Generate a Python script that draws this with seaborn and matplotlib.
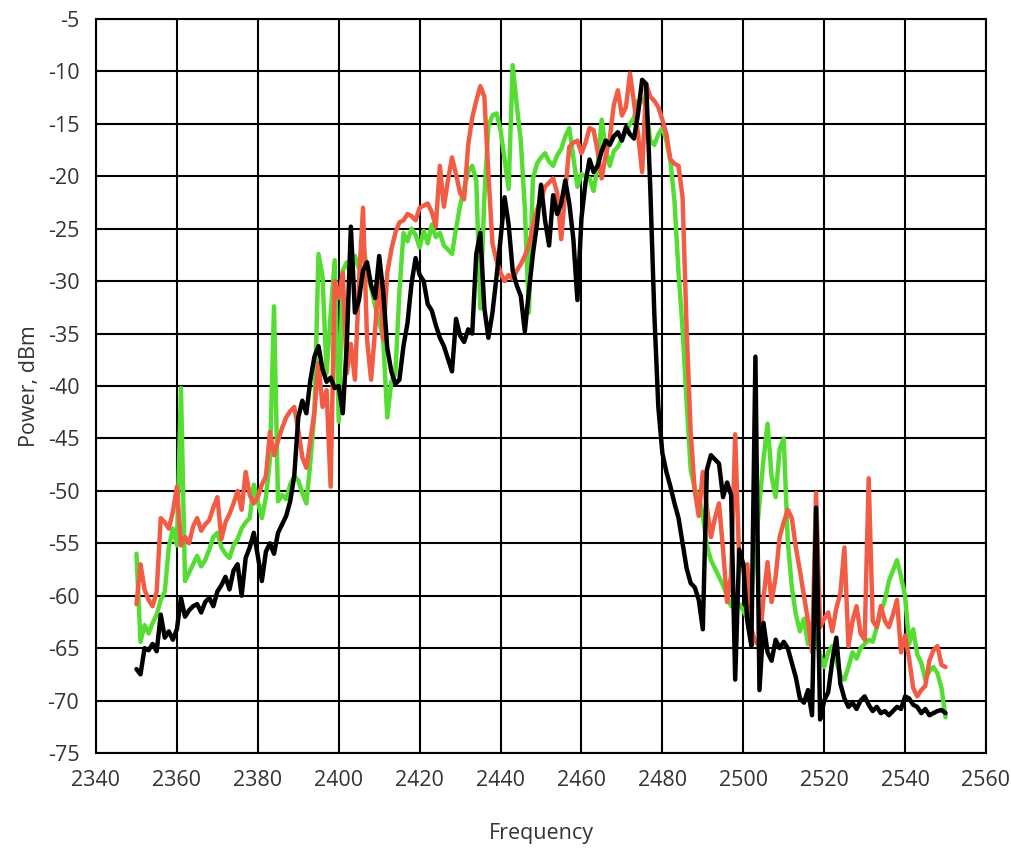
import numpy as np
import pandas as pd
import matplotlib
matplotlib.use("Agg")
import matplotlib.pyplot as plt
import seaborn as sns

# Частоты: шаг 1 МГц, 2350..2550
freq = list(range(2350, 2551))

# Чёрная кривая, dBm
black = [
    -67.0, -67.5, -65.0, -65.2, -64.6, -65.3, -61.8, -64.0, -63.4, -64.2,
    -63.2, -60.2, -62.0, -61.4, -61.0, -60.8, -61.6, -60.6, -60.2, -61.0,
    -59.6, -59.0, -58.2, -59.4, -57.6, -57.0, -60.0, -56.4, -55.4, -54.0,
    -56.2, -58.6, -55.8, -55.0, -56.0, -54.0, -53.2, -52.4, -51.0, -48.6,
    -43.0, -41.4, -42.6, -39.4, -37.2, -36.2, -38.4, -39.6, -39.2, -40.2,
    -40.0, -42.6, -36.0, -24.8, -33.0, -31.8, -29.0, -28.2, -30.4, -31.6,
    -27.6, -31.0, -36.4, -38.6, -39.8, -39.4, -36.2, -34.0, -30.2, -27.8,
    -29.4, -30.0, -32.2, -32.8, -34.2, -35.4, -36.2, -37.4, -38.6, -33.6,
    -35.2, -35.8, -34.6, -35.0, -27.4, -25.4, -32.6, -35.4, -33.0, -29.6,
    -26.0, -22.0, -24.6, -29.0, -30.4, -31.4, -34.8, -31.0, -27.4, -24.6,
    -20.8, -24.2, -26.6, -21.8, -23.6, -22.6, -20.4, -22.6, -26.0, -31.8,
    -24.0, -20.6, -18.4, -19.6, -19.0, -17.6, -16.6, -17.0, -16.2, -15.8,
    -16.6, -15.3, -16.0, -16.4, -14.0, -10.8, -11.2, -21.0, -33.0, -42.0,
    -46.4, -48.2, -49.6, -51.2, -52.6, -55.0, -57.4, -58.8, -59.2, -60.4,
    -63.2, -48.0, -46.6, -47.0, -47.4, -50.6, -49.2, -50.4, -68.0, -55.6,
    -57.0, -62.4, -64.8, -37.2, -69.0, -62.6, -65.4, -66.2, -64.2, -65.0,
    -64.4, -65.0, -66.4, -67.8, -69.8, -70.2, -69.0, -71.4, -51.6, -71.8,
    -70.0, -69.2, -66.2, -64.0, -68.4, -69.8, -70.6, -70.2, -70.8, -70.0,
    -69.6, -70.4, -71.0, -70.6, -71.2, -71.0, -71.4, -71.0, -70.6, -70.8,
    -69.6, -69.8, -70.4, -70.6, -71.2, -70.8, -71.4, -71.2, -71.0, -70.9,
    -71.2,
]

# Зелёная кривая
green = [
    -56.0, -64.4, -62.8, -63.6, -62.6, -61.8, -60.4, -59.6, -55.4, -53.6,
    -55.2, -40.2, -58.6, -57.8, -57.0, -56.2, -57.2, -56.6, -55.6, -54.4,
    -54.0, -55.4, -56.0, -56.4, -55.2, -54.6, -53.6, -53.0, -52.6, -49.4,
    -51.0, -52.6, -50.6, -47.0, -32.4, -51.0, -50.4, -50.8, -49.4, -48.6,
    -49.0, -50.2, -51.2, -47.2, -42.6, -27.4, -29.6, -38.8, -33.2, -28.0,
    -43.4, -29.0, -28.2, -29.4, -27.6, -28.8, -26.2, -29.0, -30.6, -32.4,
    -33.8, -35.6, -43.0, -39.6, -38.8, -31.0, -25.4, -26.2, -25.0, -25.6,
    -26.8, -25.2, -26.4, -24.6, -25.8, -25.4, -26.6, -27.0, -27.4, -25.0,
    -22.8, -21.2, -19.6, -19.0, -20.4, -32.6, -22.0, -15.2, -14.2, -14.0,
    -15.6, -18.4, -21.2, -9.4, -13.2, -16.6, -23.0, -33.0, -20.2, -18.8,
    -18.2, -17.8, -18.6, -19.0, -18.0, -17.4, -16.2, -15.4, -18.2, -21.0,
    -19.8, -20.0, -20.2, -21.4, -19.0, -14.6, -17.4, -19.0, -17.6, -17.2,
    -16.4, -15.8, -15.0, -14.4, -12.8, -12.6, -13.4, -16.6, -17.0, -16.0,
    -15.4, -16.6, -18.6, -22.4, -29.2, -34.6, -41.6, -48.0, -49.8, -50.6,
    -52.4, -55.2, -56.6, -57.4, -58.2, -59.0, -60.0, -61.0, -60.6, -60.8,
    -61.4, -62.2, -60.0, -55.4, -51.2, -47.0, -43.6, -48.6, -50.6, -46.0,
    -45.0, -54.8, -59.2, -61.8, -63.4, -62.2, -64.6, -63.0, -64.2, -65.6,
    -66.8, -65.4, -64.8, -66.2, -67.6, -68.0, -66.8, -65.4, -66.0, -65.0,
    -64.6, -64.2, -64.4, -63.0, -61.6, -60.4, -58.6, -57.6, -56.6, -58.2,
    -60.0, -64.6, -63.2, -65.6, -66.4, -68.0, -67.2, -66.8, -67.4, -68.8,
    -71.6,
]

# Красная кривая
red = [
    -60.8, -57.0, -59.4, -60.4, -61.0, -59.6, -52.6, -53.0, -53.6, -52.0,
    -49.6, -55.2, -54.4, -55.0, -53.4, -52.6, -53.8, -53.2, -52.8, -51.6,
    -50.6, -54.6, -53.0, -52.2, -51.2, -50.0, -51.8, -48.2, -50.4, -51.2,
    -50.6, -49.4, -48.6, -44.4, -46.6, -45.2, -44.0, -43.0, -42.4, -42.0,
    -44.2, -46.8, -47.8, -45.2, -42.4, -37.8, -42.0, -40.4, -49.6, -30.0,
    -31.6, -29.2, -38.8, -36.0, -39.4, -30.2, -23.0, -35.6, -39.4, -34.6,
    -29.2, -35.6, -29.2, -27.0, -25.4, -24.4, -24.2, -23.6, -23.8, -24.2,
    -23.0, -22.8, -22.6, -23.4, -24.8, -19.0, -22.9, -20.4, -18.2, -19.8,
    -21.6, -22.2, -17.0, -14.4, -12.8, -11.4, -12.4, -19.8, -26.4, -28.0,
    -29.2, -30.0, -29.4, -29.8, -29.0, -28.4, -27.6, -26.6, -24.8, -23.2,
    -22.2, -21.0, -20.6, -20.2, -21.6, -26.0, -21.4, -17.2, -16.8, -16.6,
    -17.8, -16.8, -15.4, -15.6, -17.6, -20.2, -18.0, -16.4, -13.2, -11.8,
    -14.2, -13.4, -10.2, -13.0, -16.0, -19.6, -11.2, -12.4, -12.8, -13.4,
    -14.6, -16.0, -18.4, -18.8, -19.0, -22.0, -34.6, -44.4, -50.0, -52.4,
    -48.2, -51.6, -54.4, -52.6, -51.2, -55.6, -60.6, -58.0, -44.6, -56.8,
    -57.2, -57.0, -63.2, -64.4, -64.8, -60.2, -56.8, -60.6, -58.2, -54.4,
    -53.0, -51.8, -52.6, -55.4, -57.6, -60.0, -62.4, -65.4, -50.2, -63.0,
    -62.2, -61.6, -63.4, -61.2, -59.8, -55.4, -64.8, -62.4, -61.0, -63.6,
    -64.2, -48.8, -62.4, -63.0, -61.0, -62.4, -63.0, -61.8, -60.4, -65.4,
    -63.8, -66.0, -68.8, -69.6, -69.0, -68.6, -66.2, -65.2, -64.8, -66.6,
    -66.8,
]

df = pd.DataFrame({
    "freq": freq * 3,
    "power": green + red + black,
    "trace": ["green"] * len(freq) + ["red"] * len(freq) + ["black"] * len(freq),
})

sns.set_style("white")
plt.rcParams["font.family"] = ["Open Sans", "DejaVu Sans"]
plt.rcParams["axes.unicode_minus"] = False

fig = plt.figure(figsize=(10.11, 8.49), dpi=100)
ax = fig.add_axes([96 / 1011, 1 - 753 / 849, 890 / 1011, 734 / 849])

palette = {"green": "#55DD33", "red": "#F25C45", "black": "#000000"}
sns.lineplot(data=df, x="freq", y="power", hue="trace",
             hue_order=["green", "red", "black"], palette=palette,
             estimator=None, sort=False, linewidth=3.2, legend=False, ax=ax)

ax.set_xlim(2340, 2560)
ax.set_ylim(-75, -5)
ax.set_xticks(np.arange(2340, 2561, 20))
ax.set_yticks(np.arange(-75, -4, 5))

# сетка чёрная, как в оригинале
ax.grid(True, color="black", linewidth=1.5)
ax.set_axisbelow(True)
for s in ax.spines.values():
    s.set_color("black")
    s.set_linewidth(1.5)

ax.tick_params(axis="both", direction="out", length=9, width=1.3,
               color="#333333", labelsize=15.5, labelcolor="#333333", pad=3)

ax.set_xlabel("Frequency", fontsize=15.5, color="#333333")
ax.set_ylabel("Power, dBm", fontsize=15.5, color="#333333")
ax.xaxis.set_label_coords(0.5, (753 - 833) / 734)
ax.xaxis.label.set_va("center")
ax.yaxis.set_label_coords((30 - 96) / 890, 0.5)
ax.yaxis.label.set_va("center")

fig.savefig("out.png", dpi=100)
